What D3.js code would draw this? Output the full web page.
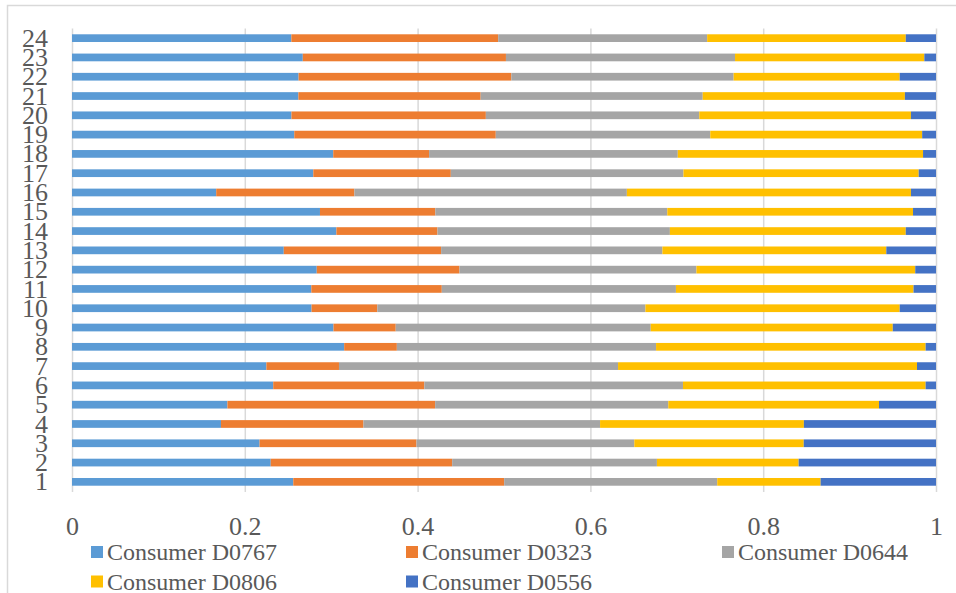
<!DOCTYPE html>
<html>
<head>
<meta charset="utf-8">
<script src="https://cdn.jsdelivr.net/npm/d3@7"></script>
<style>
  html, body { margin: 0; padding: 0; background: #fff; }
  svg { display: block; }
  text { font-family: "Liberation Serif", "Times New Roman", serif; fill: #595959; }
</style>
</head>
<body>
<svg id="chart" width="956" height="593"></svg>
<script>
const categories = ["1","2","3","4","5","6","7","8","9","10","11","12","13","14","15","16","17","18","19","20","21","22","23","24"];
const seriesNames = ["Consumer D0767","Consumer D0323","Consumer D0644","Consumer D0806","Consumer D0556"];
const seriesColors = ["#5B9BD5","#ED7D31","#A5A5A5","#FFC000","#4472C4"];
const D0767 = [0.256,0.230,0.217,0.1725,0.180,0.233,0.225,0.315,0.3025,0.277,0.277,0.283,0.245,0.306,0.287,0.167,0.279,0.3025,0.257,0.254,0.262,0.262,0.267,0.254];
const D0323 = [0.244,0.210,0.1815,0.165,0.2405,0.175,0.084,0.061,0.072,0.076,0.151,0.165,0.182,0.117,0.1335,0.160,0.159,0.111,0.233,0.225,0.211,0.246,0.235,0.2395];
const D0644 = [0.2465,0.237,0.252,0.274,0.270,0.2995,0.323,0.300,0.295,0.310,0.271,0.274,0.256,0.269,0.2685,0.3156,0.269,0.288,0.248,0.247,0.257,0.257,0.265,0.242];
const D0806 = [0.1196,0.164,0.196,0.236,0.244,0.281,0.346,0.312,0.280,0.294,0.275,0.253,0.259,0.273,0.2844,0.329,0.272,0.284,0.245,0.245,0.234,0.192,0.219,0.230];
const D0556 = [0.1335,0.159,0.153,0.153,0.066,0.012,0.022,0.012,0.050,0.042,0.026,0.024,0.0575,0.035,0.0266,0.029,0.020,0.015,0.016,0.029,0.036,0.042,0.0135,0.035];
const xTicks = [0, 0.2, 0.4, 0.6, 0.8, 1];
const xTickLabels = ["0","0.2","0.4","0.6","0.8","1"];

const seriesValues = [D0767, D0323, D0644, D0806, D0556];
const table = categories.map((c, i) => {
  const row = { cat: c };
  seriesNames.forEach((n, j) => row[n] = seriesValues[j][i]);
  return row;
});
const stacked = d3.stack().keys(seriesNames).offset(d3.stackOffsetExpand)(table);

const svg = d3.select("#chart");
const margin = { left: 72, right: 20, top: 28.5, bottom: 101.5 };
const W = 956, H = 593;

// outer chart frame
svg.append("rect").attr("x", 7.5).attr("y", 5.5).attr("width", 1000).attr("height", 1000)
  .attr("fill", "none").attr("stroke", "#d9d9d9").attr("stroke-width", 1.5);

const x = d3.scaleLinear().domain([0, 1]).range([72, 936]);
const y = d3.scaleBand().domain(categories.slice().reverse()).range([28.5, 491.5]).paddingInner(0.6).paddingOuter(0.3);

// gridlines
const grid = d3.axisBottom(x).tickValues(xTicks).tickSize(463.5).tickFormat("");
svg.append("g").attr("transform", "translate(0,28.5)").call(grid)
  .call(g => g.select(".domain").remove())
  .call(g => g.selectAll("line").attr("stroke", "#d9d9d9").attr("stroke-width", 1.5));

// bars
svg.append("g").selectAll("g").data(stacked).join("g")
  .attr("fill", (d, i) => seriesColors[i])
  .selectAll("rect").data(d => d).join("rect")
  .attr("x", d => x(d[0]))
  .attr("width", d => x(d[1]) - x(d[0]))
  .attr("y", d => y(d.data.cat))
  .attr("height", y.bandwidth());

// y axis labels
const yAxis = d3.axisLeft(y).tickSize(0).tickPadding(24);
svg.append("g").attr("transform", "translate(72,0)").call(yAxis)
  .call(g => g.select(".domain").remove())
  .call(g => g.selectAll("text").attr("font-size", 26).attr("font-family", null).attr("fill", "#595959").attr("dy", "0.33em"));

// x axis labels
const xAxis = d3.axisBottom(x).tickValues(xTicks).tickSize(0).tickPadding(0)
  .tickFormat((d, i) => xTickLabels[i]);
svg.append("g").attr("transform", "translate(0,535)").call(xAxis)
  .call(g => g.select(".domain").remove())
  .call(g => g.selectAll("text").attr("font-size", 26).attr("font-family", null).attr("fill", "#595959").attr("dy", 0));

// legend
const legendPos = [[91, 546], [406, 546], [722, 546], [91, 575.5], [406, 575.5]];
const lg = svg.append("g").selectAll("g").data(seriesNames).join("g")
  .attr("transform", (d, i) => `translate(${legendPos[i][0]},${legendPos[i][1]})`);
lg.append("rect").attr("width", 12).attr("height", 12).attr("fill", (d, i) => seriesColors[i]);
lg.append("text").attr("x", 16).attr("y", 14).attr("font-size", 24).text(d => d);
</script>
</body>
</html>
